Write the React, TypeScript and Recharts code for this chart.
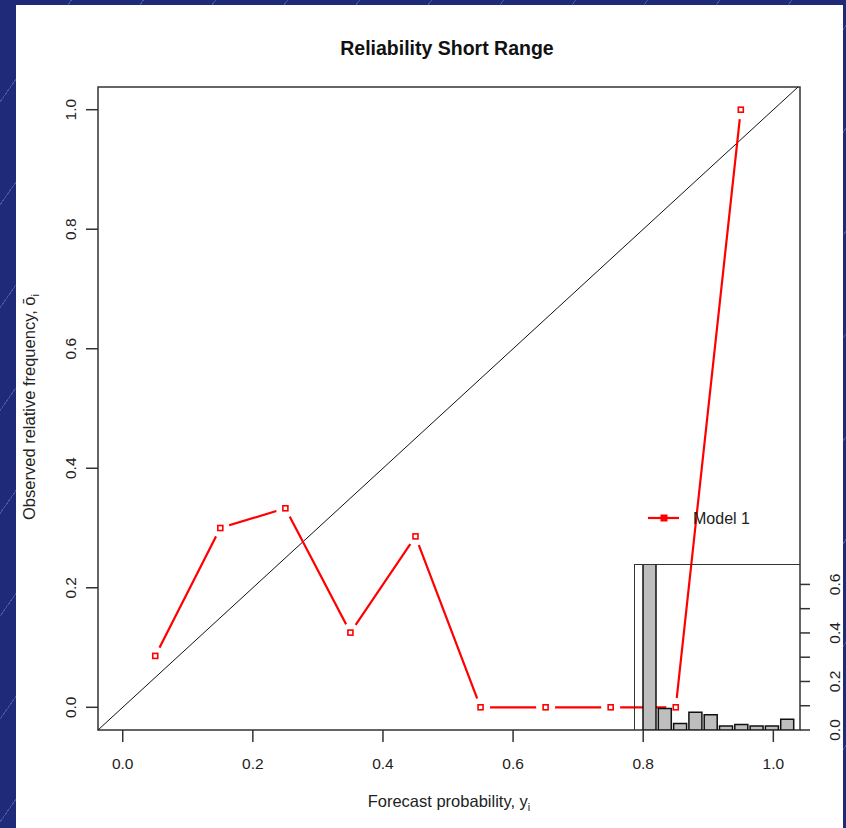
import React from 'react';
import {
  LineChart, Line, XAxis, YAxis, ReferenceLine, ReferenceArea,
  BarChart, Bar,
} from 'recharts';

// reliability curve
const forecastBins = [0.05, 0.15, 0.25, 0.35, 0.45, 0.55, 0.65, 0.75, 0.85, 0.95];
const observedFreq = [0.086, 0.3, 0.333, 0.125, 0.286, 0, 0, 0, 0, 1.0];
const mainTicks = [0, 0.2, 0.4, 0.6, 0.8, 1.0];

// refinement histogram (inset)
const histBins = ['1', '2', '3', '4', '5', '6', '7', '8', '9', '10'];
const histFreq = [0.75, 0.089, 0.027, 0.073, 0.063, 0.016, 0.023, 0.016, 0.016, 0.044];
const histTicks = [0, 0.1, 0.2, 0.3, 0.4, 0.5, 0.6];

const FONT = '"Liberation Sans", Arial, sans-serif';

const curveData = forecastBins.map((x, i) => ({ x, y: observedFreq[i] }));
const histData = histBins.map((bin, i) => ({ bin, freq: histFreq[i] }));

const OpenSquare = (props: any) => {
  const { cx, cy } = props;
  if (cx == null || cy == null) return null;
  return (
    <g>
      <circle cx={cx} cy={cy} r={9.5} fill="#fff" />
      <rect x={cx - 2.5} y={cy - 2.5} width={5} height={5} fill="#fff" stroke="#ff0000" strokeWidth={1.6} />
    </g>
  );
};

const YTick = (props: any) => {
  const { x, y, payload } = props;
  return (
    <text x={x} y={y} transform={`rotate(-90 ${x} ${y})`} textAnchor="middle"
      fontFamily={FONT} fontSize={15.5} fill="#222">
      {payload.value.toFixed(1)}
    </text>
  );
};

const InsetTick = (props: any) => {
  const { x, y, payload } = props;
  if (Math.round(payload.value * 10) % 2 !== 0) return null;
  const bx = x + 11;
  return (
    <text x={bx} y={y} transform={`rotate(-90 ${bx} ${y})`} textAnchor="middle"
      fontFamily={FONT} fontSize={15.5} fill="#222">
      {payload.value.toFixed(1)}
    </text>
  );
};

export default function App() {
  return (
    <div style={{
      position: 'absolute', left: 0, top: 0, width: 846, height: 828, overflow: 'hidden',
      background: 'repeating-linear-gradient(125deg, #1f2a78 0px, #1f2a78 58px, #4555a6 58px, #4555a6 59px)',
    }}>
      <div style={{ position: 'absolute', left: 16, top: 5, width: 827, height: 823, background: '#fff' }} />

      <div style={{ position: 'absolute', left: 0, top: 0 }}>
        <LineChart width={846} height={828} data={curveData}
          margin={{ top: 87, right: 46, bottom: 58, left: 38 }}>
          <text x={447} y={55} textAnchor="middle" fontFamily={FONT} fontSize={19.5} fontWeight="bold" fill="#111">
            Reliability Short Range
          </text>
          <XAxis dataKey="x" type="number" domain={[-0.038, 1.041]} ticks={mainTicks} allowDataOverflow
            height={40} axisLine={false} tickSize={12} tickMargin={16}
            tickLine={{ stroke: '#333', strokeWidth: 1.5 }}
            tick={{ fontFamily: FONT, fontSize: 15.5, fill: '#222' }}
            tickFormatter={(v: number) => v.toFixed(1)}
            label={{
              content: () => (
                <text x={449} y={807} textAnchor="middle" fontFamily={FONT} fontSize={16.5} fill="#222">
                  Forecast probability, y<tspan dy={4} fontSize={11}>i</tspan>
                </text>
              ),
            }}
          />
          <YAxis type="number" domain={[-0.038, 1.038]} ticks={mainTicks} allowDataOverflow
            width={60} axisLine={false} tickSize={12} tickMargin={10}
            tickLine={{ stroke: '#333', strokeWidth: 1.5 }}
            tick={<YTick />}
            label={{
              content: () => (
                <text x={35} y={407} transform="rotate(-90 35 407)" textAnchor="middle"
                  fontFamily={FONT} fontSize={16.5} fill="#222">
                  Observed relative frequency, ō<tspan dy={4} fontSize={11}>i</tspan>
                </text>
              ),
            }}
          />
          <ReferenceArea x1={-0.038} x2={1.041} y1={-0.038} y2={1.038} ifOverflow="visible"
            fill="none" stroke="#333" strokeWidth={1.5} />
          <ReferenceLine segment={[{ x: -0.038, y: -0.038 }, { x: 1.038, y: 1.038 }]}
            stroke="#111" strokeWidth={1} ifOverflow="visible" />
          <Line dataKey="y" type="linear" stroke="#ff0000" strokeWidth={2.2}
            dot={<OpenSquare />} activeDot={false} isAnimationActive={false} />
        </LineChart>
      </div>

      {/* legend */}
      <svg style={{ position: 'absolute', left: 645, top: 508 }} width={120} height={24}>
        <line x1={3} y1={10} x2={34} y2={10} stroke="#ff0000" strokeWidth={2.2} />
        <rect x={15.5} y={6.5} width={7} height={7} fill="#ff0000" />
        <text x={48} y={16} fontFamily={FONT} fontSize={16} fill="#222">Model 1</text>
      </svg>

      <div style={{
        position: 'absolute', left: 634, top: 564, width: 166, height: 166,
        borderLeft: '1.5px solid #333', borderTop: '1.5px solid #333', boxSizing: 'border-box',
      }} />

      <div style={{ position: 'absolute', left: 635, top: 565 }}>
        <BarChart width={215} height={190} data={histData}
          margin={{ top: 0, right: 0, bottom: 25, left: 0 }}>
          <XAxis dataKey="bin" hide padding={{ left: 7, right: 5 }} />
          <YAxis orientation="right" type="number" domain={[0, 0.68]} ticks={histTicks} allowDataOverflow
            width={50} axisLine={false} tickSize={10} tickMargin={19}
            tickLine={{ stroke: '#333', strokeWidth: 1.5 }}
            tick={<InsetTick />}
          />
          <Bar dataKey="freq" fill="#bebebe" stroke="#111" strokeWidth={1.5} barSize={13}
            isAnimationActive={false} />
        </BarChart>
      </div>
    </div>
  );
}
